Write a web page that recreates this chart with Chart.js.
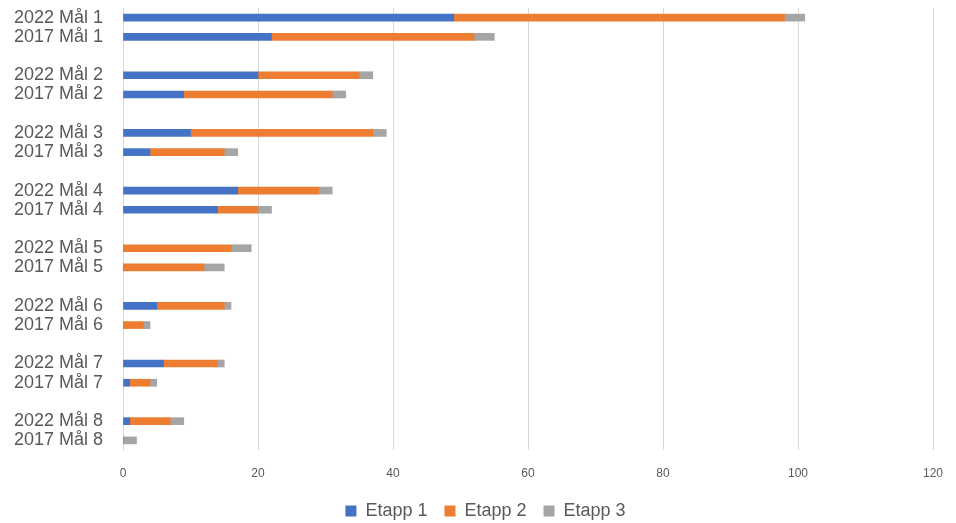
<!DOCTYPE html>
<html>
<head>
<meta charset="utf-8">
<script src="https://cdn.jsdelivr.net/npm/chart.js@4/dist/chart.umd.min.js"></script>
<style>
  html, body { margin: 0; padding: 0; background: #fff; }
  #wrap { width: 956px; height: 523px; }
</style>
</head>
<body>
<div id="wrap"><canvas id="grafico" width="956" height="523"></canvas></div>
<script>
// righe del grafico (le stringhe vuote fanno da spazio tra i gruppi)
var categorie = [
  "2022 Mål 1", "2017 Mål 1", "",
  "2022 Mål 2", "2017 Mål 2", "",
  "2022 Mål 3", "2017 Mål 3", "",
  "2022 Mål 4", "2017 Mål 4", "",
  "2022 Mål 5", "2017 Mål 5", "",
  "2022 Mål 6", "2017 Mål 6", "",
  "2022 Mål 7", "2017 Mål 7", "",
  "2022 Mål 8", "2017 Mål 8"
];

var etapp1 = [49, 22, null, 20, 9, null, 10, 4, null, 17, 14, null, 0, 0, null, 5, 0, null, 6, 1, null, 1, 0];
var etapp2 = [49, 30, null, 15, 22, null, 27, 11, null, 12, 6, null, 16, 12, null, 10, 3, null, 8, 3, null, 6, 0];
var etapp3 = [3, 3, null, 2, 2, null, 2, 2, null, 2, 2, null, 3, 3, null, 1, 1, null, 1, 1, null, 2, 2];

var tickX = [0, 20, 40, 60, 80, 100, 120];

var grigioTesto = "#595959";
var grigioGriglia = "#d9d9d9";

// sposta la legenda un po' a destra, centrata sull'area del grafico
var spostaLegenda = {
  id: 'spostaLegenda',
  afterLayout: function (chart) {
    var l = chart.legend;
    if (!l) return;
    var dx = 19;
    l.left += dx;
    l.right += dx;
    if (l.legendHitBoxes) l.legendHitBoxes.forEach(function (b) { b.left += dx; });
  }
};

var ctx = document.getElementById("grafico").getContext("2d");
new Chart(ctx, {
  type: 'bar',
  data: {
    labels: categorie,
    datasets: [
      { label: 'Etapp 1', data: etapp1, backgroundColor: '#4472C4', barThickness: 7 },
      { label: 'Etapp 2', data: etapp2, backgroundColor: '#ED7D31', barThickness: 7 },
      { label: 'Etapp 3', data: etapp3, backgroundColor: '#A5A5A5', barThickness: 7 }
    ]
  },
  options: {
    indexAxis: 'y',
    responsive: false,
    animation: false,
    layout: { padding: { top: 8, right: 23, left: 0, bottom: -7 } },
    scales: {
      x: {
        stacked: true,
        min: 0,
        max: 120,
        afterBuildTicks: function (s) { s.ticks = tickX.map(function (v) { return { value: v }; }); },
        afterFit: function (s) {
          s.height = 35;
          s.paddingLeft = 0; s.paddingRight = 0;
        },
        grid: { color: grigioGriglia, lineWidth: 1, drawTicks: false },
        border: { display: false },
        ticks: {
          padding: 16,
          color: grigioTesto,
          font: { family: "'Liberation Sans', sans-serif", size: 12 }
        }
      },
      y: {
        stacked: true,
        afterFit: function (s) {
          s.width = 123;
          s.paddingTop = 0; s.paddingBottom = 0;
        },
        grid: { display: false, drawTicks: false },
        border: { display: true, color: grigioGriglia, width: 1 },
        ticks: {
          autoSkip: false,
          padding: 20,
          color: grigioTesto,
          font: { family: "'Liberation Sans', sans-serif", size: 18 }
        }
      }
    },
    plugins: {
      legend: {
        position: 'bottom',
        labels: {
          boxWidth: 11,
          boxHeight: 11,
          padding: 17,
          color: grigioTesto,
          font: { family: "'Liberation Sans', sans-serif", size: 18 }
        }
      },
      tooltip: { enabled: false }
    }
  },
  plugins: [spostaLegenda]
});
</script>
</body>
</html>
